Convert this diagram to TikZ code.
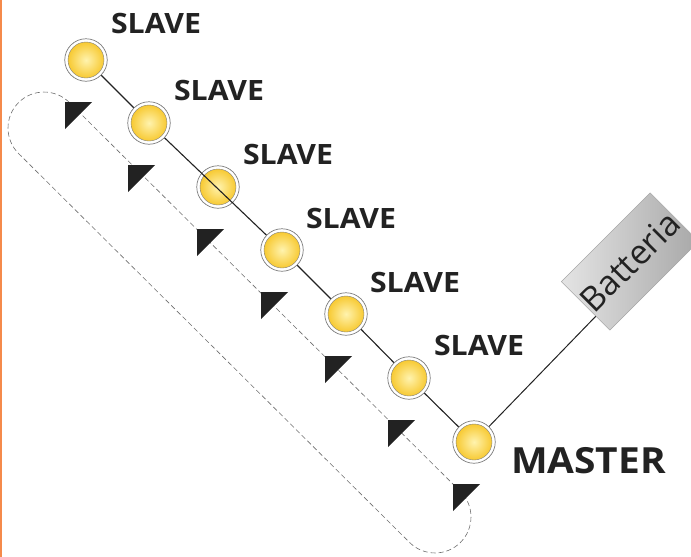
\documentclass[tikz,border=0pt]{standalone}
\usepackage{fontspec}
\setmainfont{Open Sans}
\newfontfamily\labfont[FakeStretch=1.08]{Open Sans}
\usetikzlibrary{shapes.misc,calc}
\definecolor{orangeedge}{HTML}{F58A4B}
\definecolor{ylight}{HTML}{FFF3AE}
\definecolor{ydark}{HTML}{F6C21C}
\definecolor{ringgray}{HTML}{7A7A7A}
\definecolor{dashgray}{HTML}{6E6E6E}
\definecolor{batlight}{HTML}{E4E4E4}
\definecolor{batdark}{HTML}{A8A8A8}
\definecolor{inkdark}{HTML}{222222}
\tikzset{
  unit/.style={circle, minimum size=42.5pt, inner sep=0pt, draw=ringgray,
    line width=0.7pt, fill=white,
    path picture={\shadedraw[inner color=ylight, outer color=ydark, draw=black!50, line width=0.4pt]
      (path picture bounding box.center) circle (18pt);}},
  wire/.style={draw=inkdark, line width=1.1pt},
  loopline/.style={draw=dashgray, line width=0.6pt, dash pattern=on 5pt off 3pt},
  arrowtri/.style={fill=inkdark},
  slavelab/.style={font=\labfont\bfseries\fontsize{28}{32}\selectfont, text=inkdark, inner sep=0pt},
  masterlab/.style={font=\labfont\bfseries\fontsize{36}{40}\selectfont, text=inkdark, inner sep=0pt},
  battery/.style={draw=gray!70, line width=0.5pt, left color=batlight, right color=batdark,
    minimum width=119pt, minimum height=68.6pt, rotate=45, inner sep=0pt,
    font=\fontsize{34}{38}\selectfont, text=inkdark}
}
\begin{document}
\begin{tikzpicture}[x=1pt,y=-1pt]
\useasboundingbox (0,0) rectangle (691,557);
\fill[orangeedge] (0,0) rectangle (2,557);
% dashed loop
\node[rounded rectangle, loopline, minimum width=623.5pt, minimum height=72pt, inner sep=0pt, rotate=-44.85] (loop) at (239.5,322.5) {};
% units
\node[unit] (n1) at (86,60) {};
\node[unit] (n2) at (149,123) {};
\node[unit] (n3) at (218,187) {};
\node[unit] (n4) at (282,250) {};
\node[unit] (n5) at (346,314) {};
\node[unit] (n6) at (409,378) {};
\node[unit] (master) at (474,442) {};
% arrow triangles
\foreach \n in {n1,n2,n3,n4,n5,n6,master}{
  \fill[arrowtri] ($(\n)+(-21,42)$) -- ++(27,0) -- ++(-27,27) -- cycle;
}
% wires
\draw[wire] (n1) -- (n2);
\draw[wire] (n2) -- (n4);
\draw[wire] (n4) -- (n5);
\draw[wire] (n5) -- (n6);
\draw[wire] (n6) -- (master);
% battery
\node[battery] (bat) at (630,261.5) {Batteria};
\coordinate (batin) at ($(bat.north west)!0.71!(bat.south west)$);
\draw[wire, line width=1pt] (master) -- (batin);
% labels
\node[slavelab] (l1) at (156,23) {SLAVE};
\node[slavelab] (l2) at (219,90) {SLAVE};
\node[slavelab] (l3) at (288,154.5) {SLAVE};
\node[slavelab] (l4) at (351,218.5) {SLAVE};
\node[slavelab] (l5) at (415,282) {SLAVE};
\node[slavelab] (l6) at (479,345) {SLAVE};
\node[masterlab] (lm) at (588.5,460.5) {MASTER};
\end{tikzpicture}
\end{document}
